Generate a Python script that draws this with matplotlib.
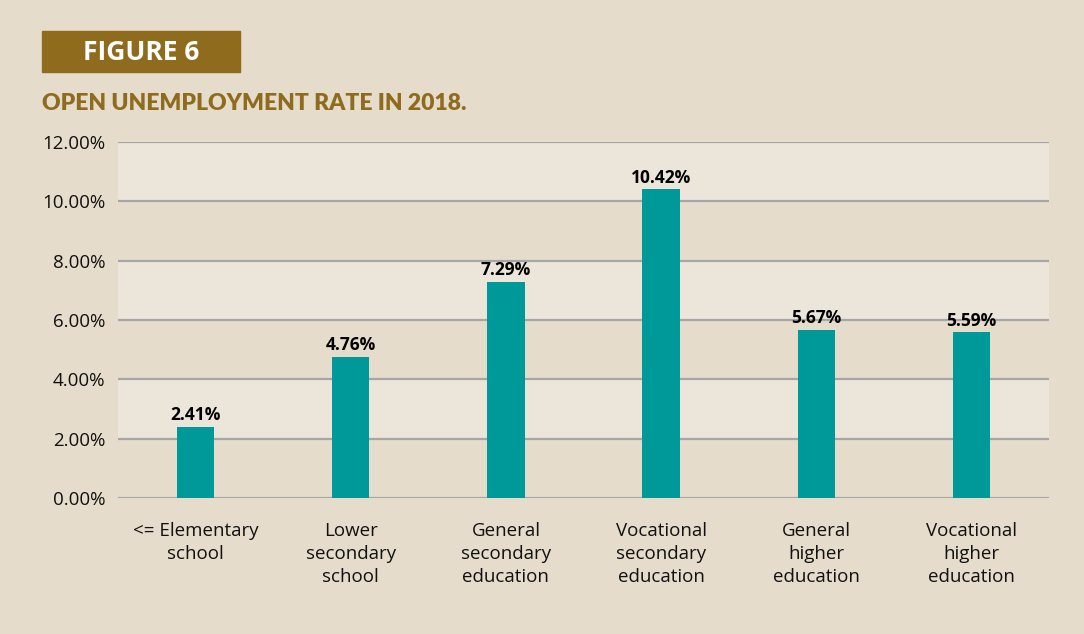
import numpy as np
import matplotlib.pyplot as plt
from matplotlib.patches import Rectangle

categories = ["<= Elementary\nschool", "Lower\nsecondary\nschool", "General\nsecondary\neducation",
              "Vocational\nsecondary\neducation", "General\nhigher\neducation", "Vocational\nhigher\neducation"]
rates = [2.41, 4.76, 7.29, 10.42, 5.67, 5.59]
yticks = [0, 2, 4, 6, 8, 10, 12]

BG = "#e5dccb"
BAND = "#ece5da"
TEAL = "#009999"
BROWN = "#8f6b1e"

plt.rcParams['font.family'] = ['Open Sans', 'DejaVu Sans']

fig = plt.figure(figsize=(10.84, 6.34), dpi=100)
fig.patch.set_facecolor(BG)
ax = fig.add_axes([118 / 1084, 136 / 634, 931 / 1084, 356 / 634])
ax.set_facecolor(BG)

# alternating bands
for lo in yticks[1:-1:2]:
    ax.axhspan(lo, lo + 2, color=BAND, zorder=0, lw=0)
for t in yticks:
    ax.axhline(t, color="#a6a6a6", lw=1.6, zorder=1)

x = np.arange(len(categories))
ax.bar(x, rates, width=0.24, color=TEAL, zorder=2)
for xi, v in zip(x, rates):
    ax.text(xi, v + 0.08, f"{v:.2f}%", ha="center", va="bottom",
            fontsize=12.5, fontweight="bold", color="black")

ax.set_xlim(-0.5, 5.5)
ax.set_ylim(0, 12)
ax.set_yticks(yticks)
ax.set_yticklabels([f"{t:.2f}%" for t in yticks], fontsize=13.5, color="#111111")
ax.set_xticks(x)
ax.set_xticklabels(categories, fontsize=13.5, color="#111111", linespacing=1.36)
ax.tick_params(axis="x", length=0, pad=17)
ax.tick_params(axis="y", length=0, pad=9)
for s in ax.spines.values():
    s.set_visible(False)

# header
fig.patches.append(Rectangle((42 / 1084, 1 - 72 / 634), 198 / 1084, 41 / 634,
                             transform=fig.transFigure, color=BROWN))
fig.text(141 / 1084, 1 - 53 / 634, "FIGURE 6", color="white", fontsize=19,
         fontweight="bold", ha="center", va="center")
fig.text(42 / 1084, 1 - 104 / 634, "OPEN UNEMPLOYMENT RATE IN 2018.",
         family=['Lato', 'DejaVu Sans'],
         color=BROWN, fontsize=16.5, fontweight="heavy", ha="left", va="center")

fig.savefig("out.png", dpi=100, facecolor=BG)
